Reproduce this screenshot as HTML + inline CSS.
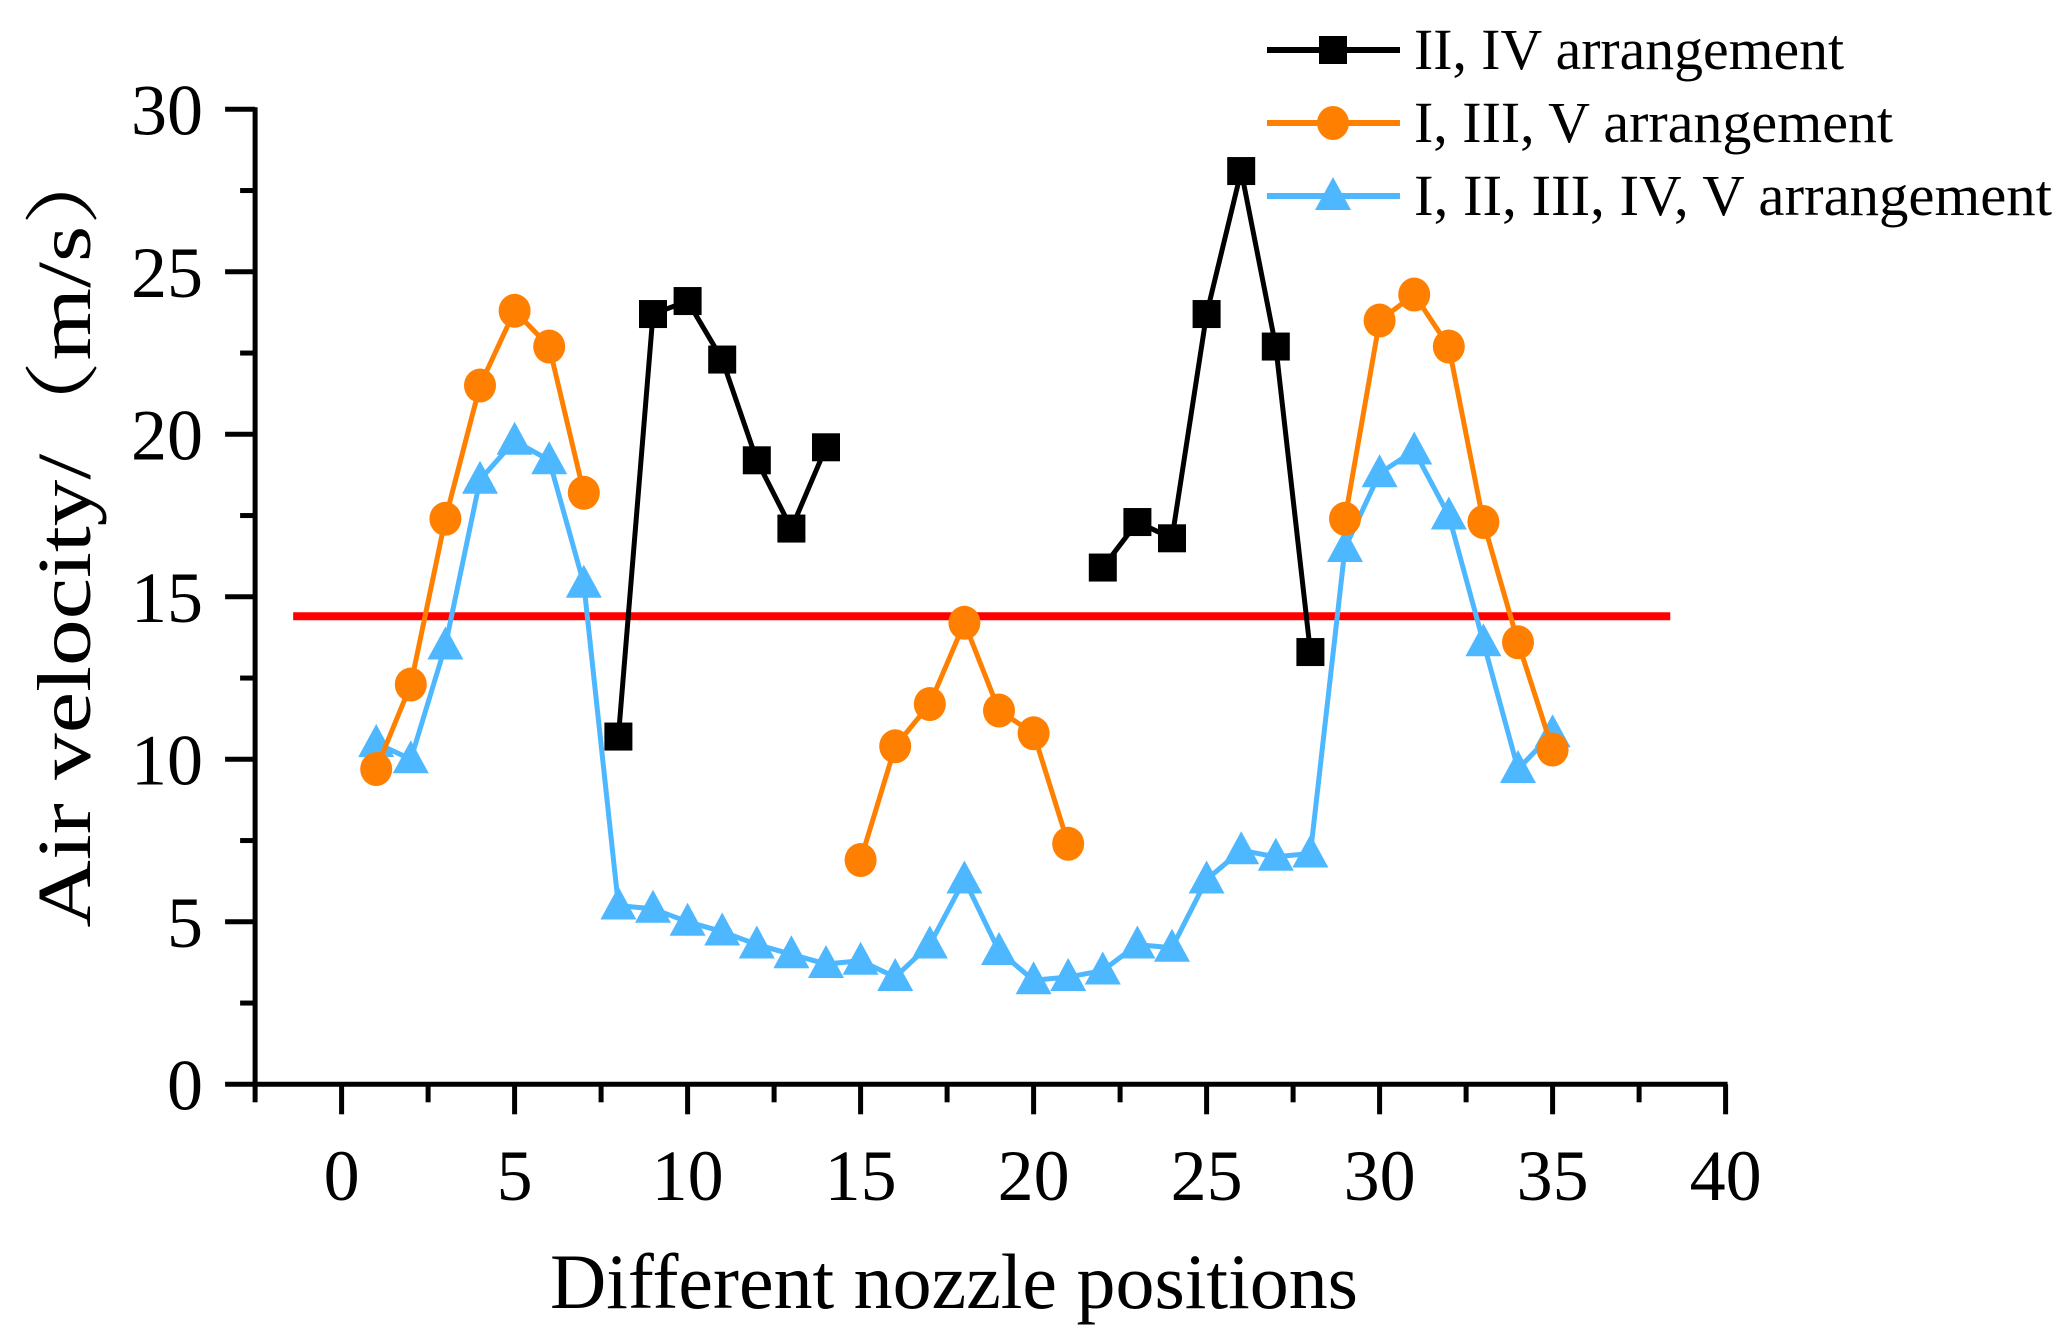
<!DOCTYPE html>
<html><head><meta charset="utf-8"><style>
html,body{margin:0;padding:0;background:#fff;}
svg{display:block;font-family:"Liberation Serif",serif;}
</style></head><body>
<svg id="chart" width="2066" height="1335" viewBox="0 0 2066 1335">
<g id="axes"></g>
<g id="plot"></g>
<g id="legend"></g>
</svg>
<script>
const xBlack = [8,9,10,11,12,13,14,null,22,23,24,25,26,27,28];
const yBlack = [10.7,23.7,24.1,22.3,19.2,17.1,19.6,null,15.9,17.3,16.8,23.7,28.1,22.7,13.3];
const xOrange = [1,2,3,4,5,6,7,null,15,16,17,18,19,20,21,null,29,30,31,32,33,34,35];
const yOrange = [9.7,12.3,17.4,21.5,23.8,22.7,18.2,null,6.9,10.4,11.7,14.2,11.5,10.8,7.4,null,17.4,23.5,24.3,22.7,17.3,13.6,10.3];
const xBlue = [1,2,3,4,5,6,7,8,9,10,11,12,13,14,15,16,17,18,19,20,21,22,23,24,25,26,27,28,29,30,31,32,33,34,35];
const yBlue = [10.5,10.0,13.5,18.6,19.8,19.2,15.4,5.5,5.4,5.0,4.7,4.3,4.0,3.7,3.8,3.3,4.3,6.3,4.1,3.2,3.3,3.5,4.3,4.2,6.3,7.2,7.0,7.1,16.5,18.8,19.5,17.5,13.6,9.7,10.8];
const refValue = [14.4];
const refRange = [-1.4, 38.4];
const xTicks = [0,5,10,15,20,25,30,35,40];
const yTicks = [0,5,10,15,20,25,30];
const legendLabels = ["II, IV arrangement","I, III, V arrangement","I, II, III, IV, V arrangement"];

const NS="http://www.w3.org/2000/svg";
const X = v => 341.6 + (v)*34.6;
const Y = v => 1084.3 - v*32.5;
function mk(tag, attrs, parent){const e=document.createElementNS(NS,tag);for(const k in attrs)e.setAttribute(k,attrs[k]);parent.appendChild(e);return e;}
const axes=document.getElementById('axes'), plot=document.getElementById('plot'), legend=document.getElementById('legend');

let a=mk('line',{x1:X(-2.5),y1:Y(0),x2:X(40)+2,y2:Y(0),stroke:'#000','stroke-width':5},axes);


a=mk('line',{x1:X(-2.5),y1:Y(0)+2,x2:X(-2.5),y2:Y(30)-2,stroke:'#000','stroke-width':5},axes);


for(let v=-2.5; v<=40.01; v+=2.5){
  const major = Math.abs(v%5)<0.01;
  const t=mk('line',{x1:X(v),y1:Y(0),x2:X(v),y2:Y(0)+(major?30:18),stroke:'#000','stroke-width':5},axes);
  
  
}
xTicks.forEach(v=>{
  const t=mk('text',{x:X(v),y:1200,'font-size':72,'text-anchor':'middle'},axes);
  t.textContent=v;
  
  
});
for(let v=0; v<=30.01; v+=2.5){
  const major = Math.abs(v%5)<0.01;
  const t=mk('line',{x1:X(-2.5),y1:Y(v),x2:X(-2.5)-(major?30:15),y2:Y(v),stroke:'#000','stroke-width':5},axes);
  
  
}
yTicks.forEach(v=>{
  const t=mk('text',{x:203,y:Y(v)+25,'font-size':72,'text-anchor':'end'},axes);
  t.textContent=v;
  
  
});
let tt=mk('text',{x:954,y:1308,'font-size':78,'text-anchor':'middle',textLength:808,lengthAdjust:'spacingAndGlyphs'},axes);
tt.textContent='Different nozzle positions';


tt=mk('text',{x:0,y:0,'font-size':76,'text-anchor':'middle',textLength:795,lengthAdjust:'spacingAndGlyphs',transform:'translate(90,530) rotate(-90)','font-family':'"Liberation Serif","Noto Serif CJK SC",serif'},axes);
tt.textContent='Air velocity/（m/s）';



let r=mk('line',{x1:X(refRange[0]),y1:Y(refValue[0]),x2:X(refRange[1]),y2:Y(refValue[0]),stroke:'#ff0000','stroke-width':8},plot);



function pathFor(xs,ys){let d='',pen=false;for(let i=0;i<xs.length;i++){if(xs[i]===null){pen=false;continue;}d+=(pen?'L':'M')+X(xs[i])+','+Y(ys[i]);pen=true;}return d;}
function marker(type,cx,cy,color,g){
  let m;
  if(type==='sq') m=mk('rect',{x:cx-14,y:cy-14,width:28,height:28,fill:color},g);
  else if(type==='ci') m=mk('ellipse',{cx:cx,cy:cy,rx:16,ry:17,fill:color},g);
  else m=mk('polygon',{points:`${cx},${cy-19} ${cx-18},${cy+14} ${cx+18},${cy+14}`,fill:color},g);
  return m;
}
function series(xs,ys,color,type,name){
  const g=mk('g',{},plot);
  
  
  const p=mk('path',{d:pathFor(xs,ys),fill:'none',stroke:color,'stroke-width':5,'stroke-linejoin':'round'},g);
  
  
  for(let i=0;i<xs.length;i++){ if(xs[i]===null)continue;
    const m=marker(type,X(xs[i]),Y(ys[i]),color,g);
    
    
  }
}
series(xBlue,yBlue,'#4db8ff','tr','series-all-arrangement');
series(xOrange,yOrange,'#ff8000','ci','series-i-iii-v');
series(xBlack,yBlack,'#000000','sq','series-ii-iv');

const lc=['#000000','#ff8000','#4db8ff'], lt=['sq','ci','tr'], ly=[50,123,196], lw=[430,479,638];
legendLabels.forEach((lab,i)=>{
  const g=mk('g',{},legend);
  
  
  mk('line',{x1:1267,y1:ly[i],x2:1400,y2:ly[i],stroke:lc[i],'stroke-width':6},g);
  marker(lt[i],1333,ly[i],lc[i],g);
  const t=mk('text',{x:1414,y:ly[i]+19,'font-size':58,textLength:lw[i],lengthAdjust:'spacingAndGlyphs'},g);
  t.textContent=lab;
});
</script>
</body></html>
